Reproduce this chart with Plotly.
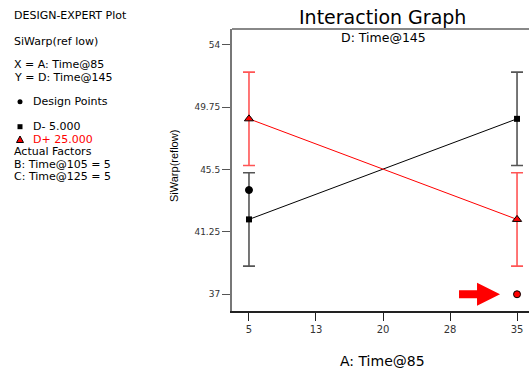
import plotly.graph_objects as go

# ---- data ----
x_levels = [5, 35]
d_minus = [42.1, 48.95]
d_plus = [48.95, 42.1]
lsd_half = [3.18, 3.18]
design_x = [5, 35]
design_y = [44.1, 37.0]
design_colors = ["black", "red"]
x_tickvals = [5, 12.5, 20, 27.5, 35]
x_ticktext = ["5", "13", "20", "28", "35"]
y_tickvals = [37, 41.25, 45.5, 49.75, 54]
y_ticktext = ["37", "41.25", "45.5", "49.75", "54"]

W, H = 529, 370
ML, MR, MT, MB = 232, 0, 29, 59
PW, PH = W - ML - MR, H - MT - MB
FONT = "DejaVu Sans"


def px(x):
    return (x - ML) / PW


def py(y):
    return (H - MB - y) / PH


fig = go.Figure()

# D- series (black)
fig.add_trace(go.Scatter(
    x=x_levels, y=d_minus, mode="lines+markers",
    line=dict(color="black", width=1),
    marker=dict(symbol="square", size=6, color="black"),
    error_y=dict(type="data", array=lsd_half, color="#555555", thickness=1.6, width=6),
))
# D+ series (red)
fig.add_trace(go.Scatter(
    x=x_levels, y=d_plus, mode="lines+markers",
    line=dict(color="red", width=1),
    marker=dict(symbol="triangle-up", size=8, color="red", line=dict(color="black", width=1)),
    error_y=dict(type="data", array=lsd_half, color="#ff5555", thickness=1.6, width=6),
))
# design points
fig.add_trace(go.Scatter(
    x=design_x, y=design_y, mode="markers",
    marker=dict(symbol="circle", size=7, color=design_colors, line=dict(color="black", width=1)),
))

fig.update_layout(
    width=W, height=H,
    margin=dict(l=ML, r=MR, t=MT, b=MB, pad=0),
    paper_bgcolor="white", plot_bgcolor="white",
    showlegend=False,
    font=dict(family=FONT, color="black"),
    xaxis=dict(
        range=[3.1, 36.34], tickvals=x_tickvals, ticktext=x_ticktext,
        showgrid=False, zeroline=False, showline=True, linecolor="#222222", linewidth=1.5,
        ticks="outside", ticklen=8, tickcolor="#222222", tickwidth=1.2,
        tickfont=dict(size=10, family=FONT, color="#333333"),
    ),
    yaxis=dict(
        range=[35.86, 55.07], tickvals=y_tickvals, ticktext=y_ticktext,
        showgrid=False, zeroline=False, showline=True, linecolor="#777777", linewidth=2,
        ticks="outside", ticklen=8, tickcolor="#555555", tickwidth=1.2,
        tickfont=dict(size=9, family=FONT, color="#333333"),
    ),
)

# top frame line
fig.add_shape(type="line", xref="paper", yref="paper", x0=0, x1=1, y0=1, y1=1,
              line=dict(color="#888888", width=2))

# arrow pointing at the red design point
fig.add_shape(type="path", xref="x", yref="y",
              xsizemode="pixel", ysizemode="pixel",
              xanchor=design_x[1], yanchor=design_y[1],
              path="M-58,4 L-40,4 L-40,11.5 L-17,0 L-40,-11.5 L-40,-4 L-58,-4 Z",
              fillcolor="red", line=dict(width=0))

# legend key symbols
fig.add_shape(type="circle", xref="paper", yref="paper", xsizemode="pixel", ysizemode="pixel",
              xanchor=px(20), yanchor=py(101.7), x0=-2.5, x1=2.5, y0=-2.5, y1=2.5,
              fillcolor="black", line=dict(width=0))
fig.add_shape(type="rect", xref="paper", yref="paper", xsizemode="pixel", ysizemode="pixel",
              xanchor=px(20), yanchor=py(126.7), x0=-2.5, x1=2.5, y0=-2.5, y1=2.5,
              fillcolor="black", line=dict(width=0))
fig.add_shape(type="path", xref="paper", yref="paper", xsizemode="pixel", ysizemode="pixel",
              xanchor=px(20), yanchor=py(139.5),
              path="M-3.5,-3 L3.5,-3 L0,3.5 Z",
              fillcolor="red", line=dict(color="black", width=1))

# left-side text block
left_lines = [
    ("DESIGN-EXPERT Plot", 13, 16, "black"),
    ("SiWarp(ref low)", 13, 41.7, "black"),
    ("X = A: Time@85", 13, 65, "black"),
    ("Y = D: Time@145", 13, 77.5, "black"),
    ("Design Points", 32, 101.7, "black"),
    ("D- 5.000", 32, 126.5, "black"),
    ("D+ 25.000", 32, 139, "red"),
    ("Actual Factors", 13, 151.5, "black"),
    ("B: Time@105 = 5", 13, 164, "black"),
    ("C: Time@125 = 5", 13, 176.6, "black"),
]
for txt, x, y, col in left_lines:
    fig.add_annotation(text=txt, xref="paper", yref="paper", x=px(x), y=py(y),
                       xanchor="left", yanchor="middle", showarrow=False, borderpad=0,
                       font=dict(size=11, family=FONT, color=col))

# titles
fig.add_annotation(text="Interaction Graph", xref="paper", yref="paper", x=px(382), y=py(17.5),
                   xanchor="center", yanchor="middle", showarrow=False, borderpad=0,
                   font=dict(size=19, family=FONT, color="black"))
fig.add_annotation(text="D: Time@145", xref="paper", yref="paper", x=px(383), y=py(37.5),
                   xanchor="center", yanchor="middle", showarrow=False, borderpad=0,
                   font=dict(size=12.5, family=FONT, color="black"))
fig.add_annotation(text="A: Time@85", xref="paper", yref="paper", x=px(382), y=py(361),
                   xanchor="center", yanchor="middle", showarrow=False, borderpad=0,
                   font=dict(size=14, family=FONT, color="black"))
fig.add_annotation(text="SiWarp(reflow)", xref="paper", yref="paper", x=px(174), y=py(166),
                   xanchor="center", yanchor="middle", showarrow=False, textangle=-90,
                   font=dict(size=11, family="Liberation Sans Narrow, Liberation Sans", color="black"))

fig.write_html("out.html", config={"displayModeBar": False},
               post_script="document.body.style.margin='0';document.body.style.padding='0';")
